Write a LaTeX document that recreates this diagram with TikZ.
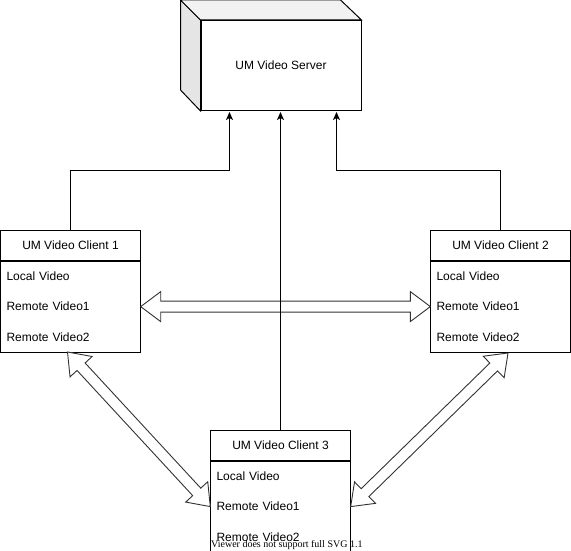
\documentclass[tikz,border=0pt]{standalone}
\usepackage{fontspec}
\setmainfont{Liberation Sans}
\newfontfamily\serifview{Liberation Serif}
\usetikzlibrary{calc,arrows.meta}
\tikzset{
  hdr/.style={draw, line width=1pt, fill=white, minimum width=140pt, minimum height=30pt, inner sep=0pt, font=\fontsize{12}{14}\selectfont},
  rowtxt/.style={text width=128pt, align=left, inner xsep=6pt, inner ysep=0pt, minimum height=30pt, font=\fontsize{12}{14}\selectfont, anchor=north},
  boxline/.style={line width=1pt},
  conn/.style={line width=1pt, -{Stealth[length=8pt,width=7pt,inset=2pt]}},
  flex/.style={draw=black!80, line width=0.9pt, fill=white, line join=miter},
}
\newcommand\flexarr[2]{%
  \path (#1) coordinate (fa-a) (#2) coordinate (fa-b)
    ($(fa-a)!20pt!(fa-b)$) coordinate (fa-p)
    ($(fa-b)!20pt!(fa-a)$) coordinate (fa-q);
  \draw[flex] (fa-a) -- ($(fa-p)!15pt!90:(fa-b)$) -- ($(fa-p)!5.5pt!90:(fa-b)$)
    -- ($(fa-q)!5.5pt!-90:(fa-a)$) -- ($(fa-q)!15pt!-90:(fa-a)$) -- (fa-b)
    -- ($(fa-q)!15pt!90:(fa-a)$) -- ($(fa-q)!5.5pt!90:(fa-a)$)
    -- ($(fa-p)!5.5pt!-90:(fa-b)$) -- ($(fa-p)!15pt!-90:(fa-b)$) -- cycle;
}
\begin{document}
\begin{tikzpicture}[x=1pt,y=-1pt]
\useasboundingbox (0,0) rectangle (571,551);
% server cube
\node[draw, line width=1pt, fill=white, minimum width=160pt, minimum height=90pt, inner sep=0pt, font=\fontsize{12}{14}\selectfont] (server) at (281,65.5) {UM Video Server};
\filldraw[fill=black!10, line width=1pt, line join=miter] (server.north west) -- ++(-20,-20) -- ++(0,90) -- (server.south west) -- cycle;
\filldraw[fill=black!5, line width=1pt, line join=miter] (server.north west) -- ++(-20,-20) -- ++(160,0) -- (server.north east) -- cycle;

% clients
\node[hdr] (c1) at (70.5,245.5) {UM Video Client 1};
\node[rowtxt] (c1a) at (c1.south) {Local Video};
\node[rowtxt] (c1b) at (c1a.south) {Remote Video1};
\node[rowtxt] (c1c) at (c1b.south) {Remote Video2};
\draw[boxline] (c1.south west) rectangle (c1c.south east);

\node[hdr] (c2) at (500.5,245.5) {UM Video Client 2};
\node[rowtxt] (c2a) at (c2.south) {Local Video};
\node[rowtxt] (c2b) at (c2a.south) {Remote Video1};
\node[rowtxt] (c2c) at (c2b.south) {Remote Video2};
\draw[boxline] (c2.south west) rectangle (c2c.south east);

\node[hdr] (c3) at (280.5,445.5) {UM Video Client 3};
\node[rowtxt] (c3a) at (c3.south) {Local Video};
\node[rowtxt] (c3b) at (c3a.south) {Remote Video1};
\node[rowtxt] (c3c) at (c3b.south) {Remote Video2};
\draw[boxline] (c3.south west) rectangle (c3c.south east);

% flex arrows
\coordinate (d1a) at (67.5,352);
\coordinate (d2a) at (508,353);
\flexarr{c1b.east}{c2b.west}
\flexarr{d1a}{c3b.west}
\flexarr{d2a}{c3b.east}

% connectors to server
\coordinate (j1) at (229.5,170.5);
\coordinate (s1) at (229.5,112);
\coordinate (j2) at (336.5,170.5);
\coordinate (s2) at (336.5,112);
\coordinate (s3) at (280.5,112);
\draw[conn] (c1.north) |- (j1) -- (s1);
\draw[conn] (c2.north) |- (j2) -- (s2);
\draw[conn] (c3.north) -- (s3);

\node[anchor=base west, inner sep=0pt, font=\serifview\fontsize{10}{12}\selectfont] (note) at (211,547) {Viewer does not support full SVG 1.1};
\end{tikzpicture}
\end{document}
